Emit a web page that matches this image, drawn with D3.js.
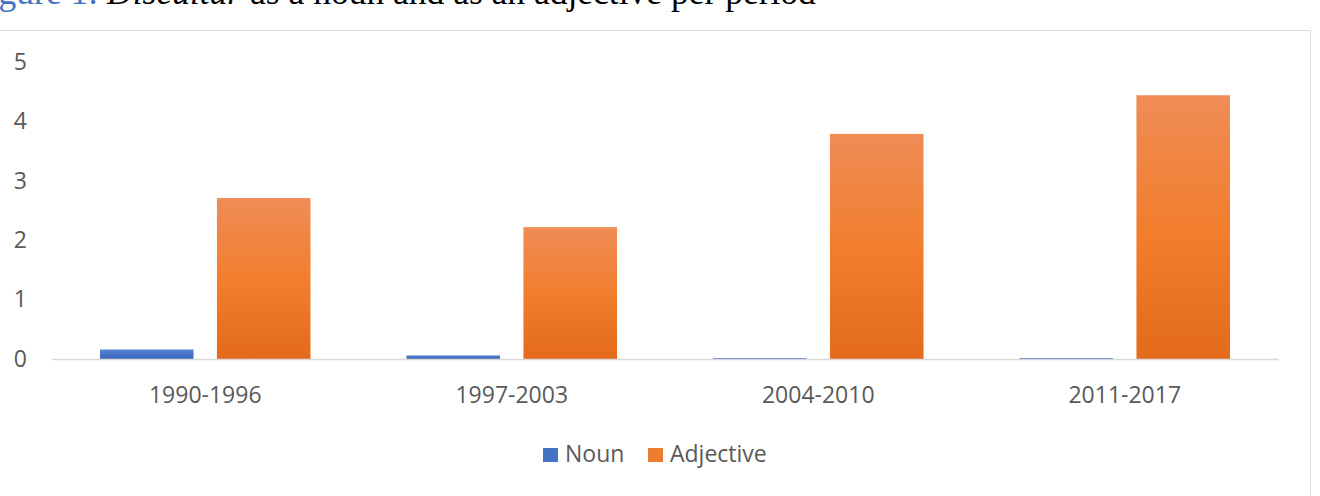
<!DOCTYPE html>
<html>
<head>
<meta charset="utf-8">
<script src="https://cdn.jsdelivr.net/npm/d3@7"></script>
<style>
  body { margin: 0; background: #fff; }
  svg { display: block; }
</style>
</head>
<body>
<svg width="1320" height="496"></svg>
<script>
var periods = ["1990-1996", "1997-2003", "2004-2010", "2011-2017"];
var seriesNames = ["Noun", "Adjective"];
var nounValues = [0.16, 0.06, 0.015, 0.015];
var adjectiveValues = [2.71, 2.22, 3.79, 4.44];
var yTicks = [0, 1, 2, 3, 4, 5];

var svg = d3.select("svg"),
    width = +svg.attr("width"),
    height = +svg.attr("height");

var textColor = "#595959";
var font = "'Open Sans', sans-serif";

// gradients like the office style fill
var defs = svg.append("defs");
function grad(id, stops) {
    var lg = defs.append("linearGradient").attr("id", id)
        .attr("x1", 0).attr("y1", 0).attr("x2", 0).attr("y2", 1);
    stops.forEach(function(s) {
        lg.append("stop").attr("offset", s[0]).attr("stop-color", s[1]);
    });
}
grad("gNoun", [[0, "#5a86d4"], [0.5, "#4673c6"], [1, "#3e6abd"]]);
grad("gAdj", [[0, "#ef8c56"], [0.5, "#f27e2e"], [1, "#e36b1b"]]);
var color = d3.scaleOrdinal().domain(seriesNames).range(["url(#gNoun)", "url(#gAdj)"]);
var swatch = d3.scaleOrdinal().domain(seriesNames).range(["#4472c4", "#ed7d31"]);

// caption, cut off at the top of the picture
var cap = svg.append("text")
    .attr("x", -31).attr("y", 4)
    .style("font-family", "'Liberation Serif', serif")
    .style("font-size", "35.5px");
cap.append("tspan").attr("fill", "#4472c4").text("Figure 1: ");
cap.append("tspan").attr("fill", "#000").style("font-style", "italic").text("Discultur");
cap.append("tspan").attr("fill", "#000").text(" as a noun and as an adjective per period");

// chart frame
svg.append("path")
    .attr("d", "M0,30.5H1310.5V" + height)
    .attr("fill", "none")
    .attr("stroke", "#d9d9d9")
    .attr("stroke-width", 1);

var x0 = d3.scaleBand().domain(periods).range([52, 1278]);
var x1 = d3.scaleBand().domain(seriesNames)
    .range([48, x0.bandwidth() - 48]).paddingInner(0.2);
var y = d3.scaleLinear().domain([0, 5]).range([359, 62]);

var rows = periods.map(function(p, i) {
    return { period: p, values: [
        { key: "Noun", value: nounValues[i] },
        { key: "Adjective", value: adjectiveValues[i] }
    ]};
});

// y axis labels
var yAxis = svg.append("g")
    .attr("transform", "translate(30,0)")
    .call(d3.axisLeft(y).tickValues(yTicks).tickFormat(d3.format("d")).tickSize(0).tickPadding(3));
yAxis.select(".domain").remove();
yAxis.selectAll("text")
    .attr("fill", textColor)
    .style("font-family", font)
    .style("font-size", "23px");

// bars
var grp = svg.selectAll(".grp")
    .data(rows)
    .enter().append("g")
    .attr("class", "grp")
    .attr("transform", function(d) { return "translate(" + x0(d.period) + ",0)"; });

grp.selectAll("rect")
    .data(function(d) { return d.values; })
    .enter().append("rect")
    .attr("x", function(d) { return x1(d.key); })
    .attr("y", function(d) { return y(d.value); })
    .attr("width", x1.bandwidth())
    .attr("height", function(d) { return y(0) - y(d.value); })
    .attr("fill", function(d) { return color(d.key); });

// x axis
var xAxis = svg.append("g")
    .attr("transform", "translate(0," + y(0) + ")")
    .call(d3.axisBottom(x0).tickSize(0).tickSizeOuter(0).tickPadding(28));
xAxis.select(".domain").attr("stroke", "#d9d9d9").attr("stroke-width", 1.5);
xAxis.selectAll("text")
    .attr("fill", textColor)
    .style("font-family", font)
    .style("font-size", "23px");

// legend
var legendX = [543, 648];
var lg = svg.selectAll(".lg")
    .data(seriesNames)
    .enter().append("g")
    .attr("class", "lg")
    .attr("transform", function(d, i) { return "translate(" + legendX[i] + ",448)"; });
lg.append("rect")
    .attr("width", 15).attr("height", 14)
    .attr("fill", function(d) { return swatch(d); });
lg.append("text")
    .attr("x", 22).attr("y", 14)
    .attr("fill", textColor)
    .style("font-family", font)
    .style("font-size", "23px")
    .text(function(d) { return d; });
</script>
</body>
</html>
